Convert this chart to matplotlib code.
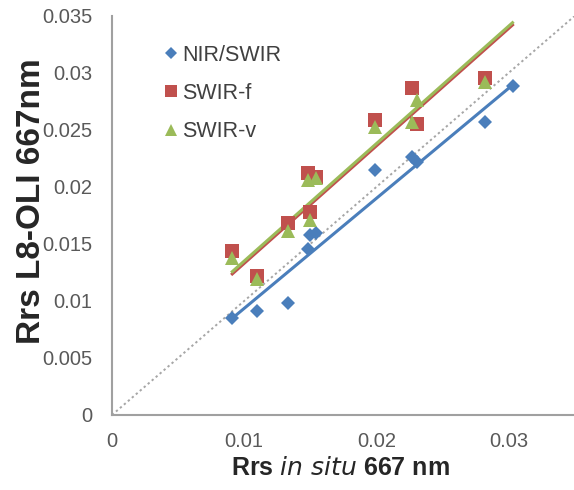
import matplotlib
matplotlib.use("Agg")
import matplotlib.pyplot as plt
import numpy as np

plt.rcParams["font.family"] = ["Liberation Sans", "DejaVu Sans"]

# in situ Rrs (x) vs L8-OLI Rrs (y) at 667 nm
nir_x = [0.0091, 0.0110, 0.0133, 0.0148, 0.0150, 0.0154, 0.0199, 0.0227, 0.0231, 0.0282, 0.0303]
nir_y = [0.0085, 0.0091, 0.0098, 0.0146, 0.0158, 0.0160, 0.0215, 0.0226, 0.0222, 0.0257, 0.0289]

swir_x = [0.0091, 0.0110, 0.0133, 0.0148, 0.0150, 0.0154, 0.0199, 0.0227, 0.0231, 0.0282]
swir_f_y = [0.0144, 0.0122, 0.0168, 0.0212, 0.0178, 0.0209, 0.0259, 0.0287, 0.0255, 0.0296]
swir_v_y = [0.0138, 0.0119, 0.0161, 0.0206, 0.0171, 0.0208, 0.0253, 0.0257, 0.0276, 0.0292]

# trendlines as shown in the figure (slope, intercept)
trend_nir = [0.965, -0.0003]
trend_swir_f = [1.03, 0.0030]
trend_swir_v = [1.03, 0.0032]

x_ticks = [0, 0.01, 0.02, 0.03]
x_tick_labels = ["0", "0.01", "0.02", "0.03"]
y_ticks = [0, 0.005, 0.01, 0.015, 0.02, 0.025, 0.03, 0.035]
y_tick_labels = ["0", "0.005", "0.01", "0.015", "0.02", "0.025", "0.03", "0.035"]

BLUE = "#4a7ebb"
RED = "#c0504d"
GREEN = "#9bbb59"

fig = plt.figure(figsize=(5.74, 4.9), dpi=100)
ax = fig.add_axes([0.1951, 0.1531, 0.806, 0.8143])

# 1:1 line
ax.plot([0, 0.035], [0, 0.035], color="#a6a6a6", lw=1.4, ls=(0, (1.2, 1.5)), zorder=1)

fit_x = np.array([min(nir_x), max(nir_x)])
for (k, b), col in [(trend_nir, BLUE), (trend_swir_f, RED), (trend_swir_v, GREEN)]:
    ax.plot(fit_x, k * fit_x + b, color=col, lw=2.2, zorder=2)

ax.plot(nir_x, nir_y, "D", color=BLUE, ms=7.5, mew=0, label="NIR/SWIR", zorder=3)
ax.plot(swir_x, swir_f_y, "s", color=RED, ms=10, mew=0, label="SWIR-f", zorder=3)
ax.plot(swir_x, swir_v_y, "^", color=GREEN, ms=10, mew=0, label="SWIR-v", zorder=4)

ax.set_xlim(0, 0.035)
ax.set_ylim(0, 0.035)
ax.set_xticks(x_ticks)
ax.set_xticklabels(x_tick_labels)
ax.set_yticks(y_ticks)
ax.set_yticklabels(y_tick_labels)
ax.tick_params(length=0, labelsize=14.5, labelcolor="#595959")
ax.tick_params(axis="x", pad=12)
ax.tick_params(axis="y", pad=14)

for side in ["top", "right"]:
    ax.spines[side].set_visible(False)
for side in ["left", "bottom"]:
    ax.spines[side].set_color("#a0a0a0")
    ax.spines[side].set_linewidth(1.5)

ax.set_xlabel("Rrs $\\it{in\\ situ}$ 667 nm", fontsize=18, fontweight="bold", color="#262626")
ax.xaxis.set_label_coords(0.493, -0.102)
ax.set_ylabel("Rrs L8-OLI 667nm", fontsize=24, fontweight="bold", color="#262626")
ax.yaxis.set_label_coords(-0.141, 0.536)

ax.legend(loc="upper left", bbox_to_anchor=(0.091, 0.955), frameon=False, fontsize=15.5,
          handlelength=0.6, handletextpad=0.2, labelspacing=0.8, borderpad=0,
          labelcolor="#404040", markerscale=0.8)

fig.savefig("out.png", dpi=100)
